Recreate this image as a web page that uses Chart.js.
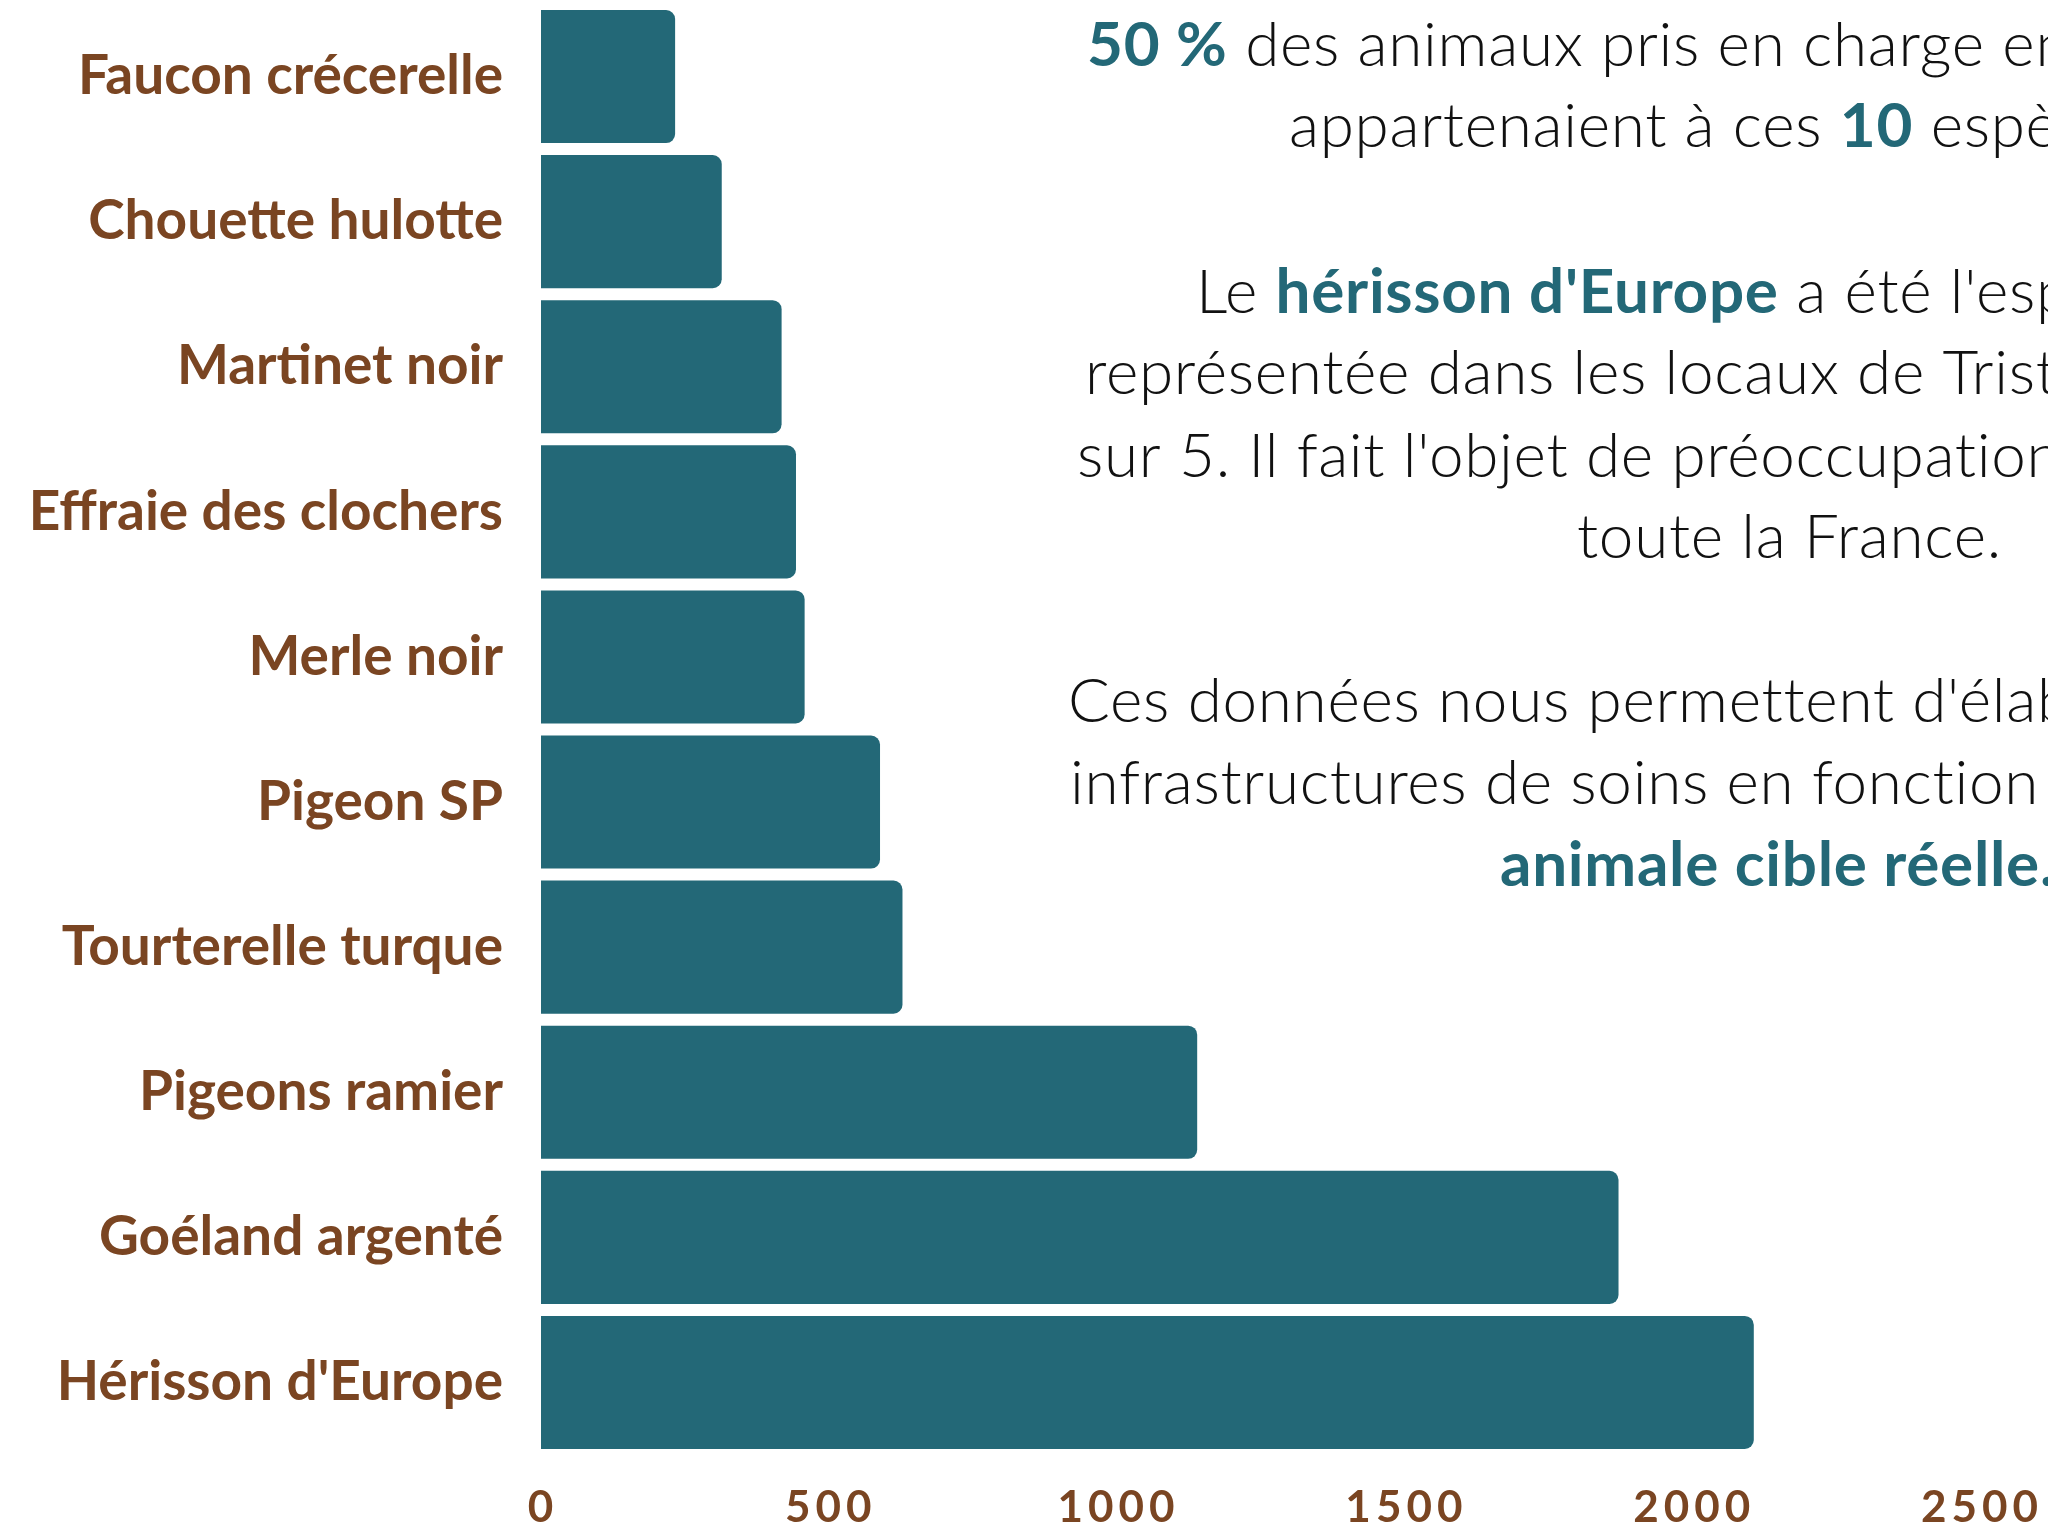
<!DOCTYPE html>
<html lang="fr">
<head>
<meta charset="utf-8">
<script src="https://cdn.jsdelivr.net/npm/chart.js@4/dist/chart.umd.min.js"></script>
<style>
  html, body { margin: 0; padding: 0; background: #fff; }
  #wrap { width: 2048px; height: 1528px; position: relative; }
</style>
</head>
<body>
<div id="wrap"><canvas id="barChart"></canvas></div>
<script>
const species = [
  'Faucon crécerelle', 'Chouette hulotte', 'Martinet noir', 'Effraie des clochers',
  'Merle noir', 'Pigeon SP', 'Tourterelle turque', 'Pigeons ramier',
  'Goéland argenté', "Hérisson d'Europe"
]
const counts = [233, 314, 418, 443, 458, 589, 628, 1140, 1872, 2107]
const xTicks = [0, 500, 1000, 1500, 2000, 2500]

// texte à droite : [début x, ligne de base y, segments [texte, gras]]
const noteLines = [
  [1087, 66, [['50 %', true], [' des animaux pris en charge en 2023', false]]],
  [1289, 147, [['appartenaient à ces ', false], ['10', true], [' espèces.', false]]],
  [1196, 313, [['Le ', false], ["hérisson d'Europe", true], [" a été l'espèce la plus", false]]],
  [1085, 394, [['représentée dans les locaux de Tristan, soit 1 animal', false]]],
  [1077, 477, [["sur 5. Il fait l'objet de préoccupations dans", false]]],
  [1577, 558, [['toute la France.', false]]],
  [1068, 722, [["Ces données nous permettent d'élaborer des", false]]],
  [1070, 804, [['infrastructures de soins en fonction de la population', false]]],
  [1500, 886, [['animale cible réelle.', true]]]
]

const teal = '#236877'
const brown = '#7a4522'

const textPlugin = {
  id: 'notes',
  afterDraw(chart) {
    const ctx = chart.ctx
    const x = chart.scales.x

    // étiquettes de l'axe x, espacées
    ctx.save()
    ctx.font = 'bold 44px Lato'
    ctx.letterSpacing = '5px'
    ctx.fillStyle = brown
    ctx.textAlign = 'center'
    ctx.textBaseline = 'alphabetic'
    x.ticks.forEach(t => {
      ctx.fillText(String(t.value), x.getPixelForValue(t.value) + 2, 1522)
    })
    ctx.restore()

    // paragraphes
    ctx.save()
    ctx.textAlign = 'left'
    ctx.textBaseline = 'alphabetic'
    ctx.letterSpacing = '0.7px'
    noteLines.forEach(([sx, by, parts]) => {
      let cx = sx
      parts.forEach(([txt, bold]) => {
        ctx.font = bold ? 'bold 62px Lato' : '300 62px Lato'
        ctx.fillStyle = bold ? teal : '#111'
        ctx.fillText(txt, cx, by)
        cx += ctx.measureText(txt).width
      })
    })
    ctx.restore()
  }
}

new Chart(document.getElementById('barChart'), {
  type: 'bar',
  data: {
    labels: species,
    datasets: [{
      data: counts,
      backgroundColor: teal,
      borderRadius: 9,
      borderSkipped: 'start',
      barPercentage: 0.917,
      categoryPercentage: 1
    }]
  },
  options: {
    indexAxis: 'y',
    responsive: true,
    maintainAspectRatio: false,
    animation: false,
    layout: { padding: { top: 4, right: 68, left: 0, bottom: 0 } },
    plugins: {
      legend: { display: false },
      tooltip: { enabled: false }
    },
    scales: {
      x: {
        min: xTicks[0],
        max: xTicks[xTicks.length - 1],
        ticks: { stepSize: 500, display: false },
        grid: { display: false },
        border: { display: false },
        afterFit(s) { s.height = 73 }
      },
      y: {
        grid: { display: false, drawTicks: false },
        border: { display: false },
        ticks: {
          color: brown,
          padding: 38,
          font: { family: 'Lato', weight: 'bold', size: 55 }
        },
        afterFit(s) {
          s.width = 541
          s.paddingTop = 0
          s.paddingBottom = 0
        }
      }
    }
  },
  plugins: [textPlugin]
})
</script>
</body>
</html>
